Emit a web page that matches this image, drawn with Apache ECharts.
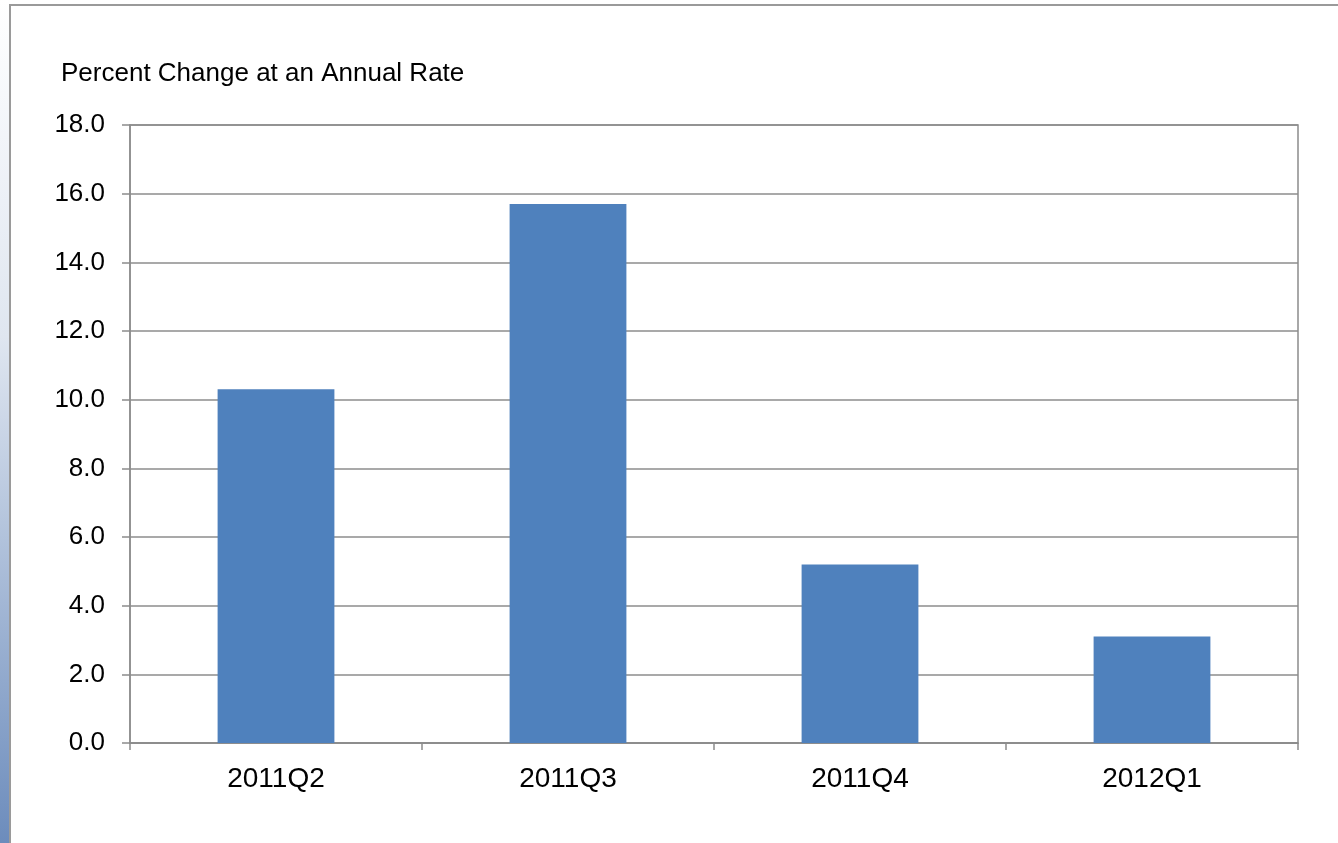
<!DOCTYPE html>
<html><head><meta charset="utf-8">
<script src="https://cdn.jsdelivr.net/npm/echarts@6/dist/echarts.min.js"></script>
<style>html,body{margin:0;padding:0;background:#fff}#c{width:1338px;height:843px}</style>
</head><body><div id="c"></div>
<script>
const categories = ['2011Q2', '2011Q3', '2011Q4', '2012Q1'];
const values = [10.3, 15.7, 5.2, 3.1];
const yTitle = 'Percent Change at an Annual Rate';

const chart = echarts.init(document.getElementById('c'), null, {renderer: 'canvas'});
const font = '"Liberation Sans", Arial, sans-serif';
chart.setOption({
  animation: false,
  graphic: [
    {type: 'rect', shape: {x: 0, y: 0, width: 9, height: 843}, silent: true,
     style: {fill: new echarts.graphic.LinearGradient(0, 0, 0, 1, [
       {offset: 0, color: '#ffffff'}, {offset: 0.4, color: '#dfe6f0'}, {offset: 1, color: '#6c8cbc'}])}},
    {type: 'rect', shape: {x: 10, y: 5, width: 1400, height: 900}, silent: true,
     style: {fill: 'none', stroke: '#9a9a9a', lineWidth: 2}},
    {type: 'text', left: 61, top: 61, silent: true,
     style: {text: yTitle, font: '26px ' + font, fill: '#000'}}
  ],
  grid: {left: 130, right: 40, top: 125, bottom: 100, show: true, borderColor: '#8c8c8c', borderWidth: 1.5, containLabel: false},
  xAxis: {
    type: 'category', data: categories,
    axisLine: {lineStyle: {color: '#8c8c8c', width: 1.5}},
    axisTick: {show: true, length: 7, lineStyle: {color: '#8c8c8c', width: 1.5}},
    axisLabel: {color: '#000', fontSize: 28, fontFamily: font, margin: 22}
  },
  yAxis: {
    type: 'value', min: 0, max: 18, interval: 2,
    axisLine: {show: true, lineStyle: {color: '#8c8c8c', width: 1.5}},
    axisTick: {show: true, length: 8, lineStyle: {color: '#8c8c8c', width: 1.5}},
    axisLabel: {color: '#000', fontSize: 26, fontFamily: font, margin: 25, formatter: v => v.toFixed(1)},
    splitLine: {lineStyle: {color: '#8c8c8c', width: 1.5}}
  },
  series: [{
    type: 'bar', data: values, barWidth: '40%',
    itemStyle: {color: '#4F81BD'}
  }]
});
</script></body></html>
